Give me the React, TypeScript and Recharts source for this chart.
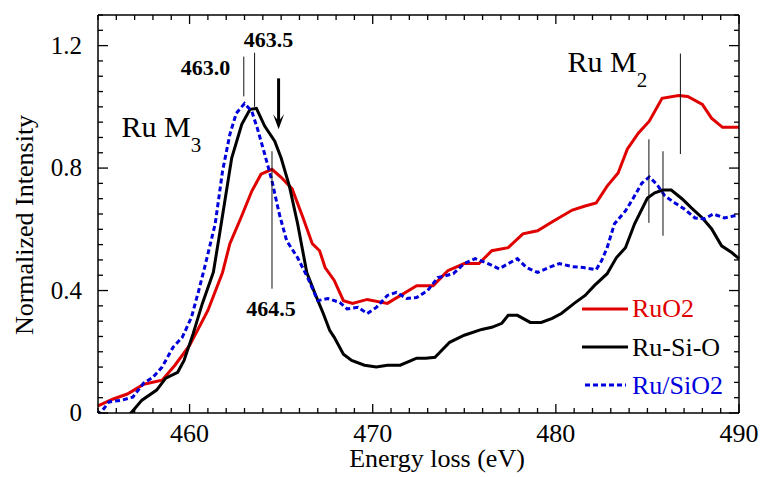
import { LineChart, Line, XAxis, YAxis, ReferenceLine, ReferenceDot } from "recharts";

// Ru M3,2 edges
const ruO2E = [
  455.0, 455.8, 456.6, 457.5, 458.5, 459.2, 460.0, 461.0, 461.8, 462.2, 462.8, 463.4, 463.9, 464.5,
  465.0, 465.6, 466.2, 466.7, 467.1, 467.4, 467.9, 468.4, 468.9, 469.7, 470.8, 472.4, 473.3, 474.1,
  475.0, 475.8, 476.5, 477.4, 478.2, 479.0, 479.9, 480.9, 481.6, 482.2, 482.8, 483.4, 483.9, 484.5,
  485.1, 485.8, 486.7, 487.2, 488.0, 488.5, 489.1, 490.0,
];
const ruO2I = [
  0.023, 0.045, 0.062, 0.094, 0.107, 0.156, 0.221, 0.335, 0.459, 0.553, 0.637, 0.725, 0.78, 0.796,
  0.77, 0.732, 0.637, 0.553, 0.53, 0.475, 0.433, 0.367, 0.358, 0.371, 0.358, 0.416, 0.416, 0.465,
  0.488, 0.488, 0.53, 0.54, 0.585, 0.595, 0.628, 0.663, 0.676, 0.686, 0.741, 0.784, 0.862, 0.914,
  0.953, 1.028, 1.037, 1.034, 1.008, 0.963, 0.933, 0.933,
];

const ruSiOE = [
  455.0, 455.5, 456.0, 456.8, 457.4, 458.2, 458.7, 459.35, 459.7, 460.2, 460.7, 461.3, 461.6, 462.3,
  462.85, 463.3, 463.65, 464.1, 464.65, 465.0, 465.45, 465.9, 466.4, 466.85, 467.3, 467.65, 467.9,
  468.4, 468.85, 469.55, 470.2, 470.8, 471.5, 472.4, 472.9, 473.4, 474.2, 475.0, 475.95, 476.5,
  477.05, 477.4, 477.9, 478.6, 479.2, 479.8, 480.3, 481.0, 481.6, 482.1, 482.8, 483.3, 483.8, 484.3,
  485.0, 485.4, 485.85, 486.3, 486.9, 487.4, 488.0, 488.5, 489.05, 489.6, 490.0,
];
const ruSiOI = [
  0.004, -0.02, -0.04, 0.0, 0.042, 0.075, 0.114, 0.133, 0.172, 0.26, 0.358, 0.46, 0.57, 0.833,
  0.943, 0.992, 0.995, 0.937, 0.888, 0.833, 0.741, 0.618, 0.459, 0.39, 0.325, 0.27, 0.247,
  0.192, 0.172, 0.156, 0.15, 0.156, 0.156, 0.179, 0.179, 0.182, 0.231, 0.254, 0.273, 0.28,
  0.293, 0.319, 0.319, 0.296, 0.296, 0.309, 0.325, 0.358, 0.384, 0.416, 0.455, 0.507, 0.54, 0.618,
  0.702, 0.719, 0.728, 0.728, 0.699, 0.67, 0.637, 0.602, 0.546, 0.524, 0.504,
];

const ruSiO2E = [
  455.0, 455.6, 456.3, 456.9, 457.5, 458.0, 458.5, 459.1, 459.6, 460.1, 460.5, 460.8, 461.4, 461.8,
  462.2, 462.55, 463.0, 463.4, 463.7, 464.1, 464.5, 464.9, 465.3, 465.9, 466.45, 467.0, 467.55,
  468.2, 468.6, 469.2, 469.7, 470.2, 470.8, 471.3, 471.85, 472.4, 473.0, 473.55, 474.4, 475.0,
  475.6, 476.3, 476.9, 477.4, 477.9, 478.4, 479.0, 479.6, 480.2, 480.9, 481.5, 482.2, 482.5, 482.8,
  483.2, 483.8, 484.2, 484.7, 485.1, 485.5, 485.95, 486.5, 487.0, 487.6, 488.1, 488.6, 489.2,
  489.75, 490.0,
];
const ruSiO2I = [
  -0.01, 0.036, 0.042, 0.052, 0.098, 0.117, 0.15, 0.215, 0.247, 0.312, 0.4, 0.47, 0.618, 0.79,
  0.91, 0.979, 1.011, 0.985, 0.93, 0.846, 0.758, 0.65, 0.563, 0.507, 0.442, 0.367, 0.374,
  0.361, 0.34, 0.345, 0.325, 0.345, 0.384, 0.394, 0.374, 0.377, 0.4, 0.442, 0.455, 0.488,
  0.504, 0.488, 0.471, 0.488, 0.504, 0.475, 0.459, 0.475, 0.488, 0.478, 0.475, 0.468, 0.498, 0.54,
  0.618, 0.66, 0.699, 0.751, 0.771, 0.748, 0.709, 0.686, 0.667, 0.637, 0.634, 0.65, 0.637,
  0.644, 0.645,
];

const xDomain = [455, 490];
const yDomain = [0, 1.3];
const xMajor = [460, 470, 480, 490];
const yMajor = [0, 0.4, 0.8, 1.2];
const yMajorLabels = ["0", "0.4", "0.8", "1.2"];
const xMinor = Array.from({ length: 36 }, (_, k) => 455 + k);
const yMinor = Array.from({ length: 27 }, (_, k) => (k * 5) / 100);

const toPoints = (e: number[], v: number[]) => e.map((x, k) => ({ e: x, i: v[k] }));
const ruO2 = toPoints(ruO2E, ruO2I);
const ruSiO = toPoints(ruSiOE, ruSiOI);
const ruSiO2 = toPoints(ruSiO2E, ruSiO2I);

const serif = "'Liberation Serif', 'Times New Roman', Times, serif";
const RED = "#e00000";
const BLUE = "#0000dd";

const W = 762;
const H = 477;
const margin = { top: 14, right: 22, bottom: 63, left: 97 };
// axes are 1px thick, so the plot is 2px smaller than the margins leave
const plotW = W - margin.left - margin.right - 2;
const plotH = H - margin.top - margin.bottom - 2;
const pxPerEv = plotW / (xDomain[1] - xDomain[0]);
const pxPerUnit = plotH / (yDomain[1] - yDomain[0]);

const isMajorX = (v: number) => xMajor.includes(v);
const majorYIndex = (v: number) => yMajor.findIndex((m) => Math.abs(m - v) < 1e-6);

const BottomLabel = (p: any) => {
  const v = p.payload.value;
  if (!isMajorX(v)) return <g />;
  return (
    <text x={p.x} y={Number(p.y) + 29} textAnchor="middle" fontSize={26} fontFamily={serif} fill="#000">
      {v}
    </text>
  );
};

const LeftLabel = (p: any) => {
  const k = majorYIndex(p.payload.value);
  if (k < 0) return <g />;
  return (
    <text x={Number(p.x) - 16} y={Number(p.y) + 8} textAnchor="end" fontSize={25} fontFamily={serif} fill="#000">
      {yMajorLabels[k]}
    </text>
  );
};

const label = (text: string, size: number, bold: boolean, anchor: string) => (p: any) => (
  <text
    x={p.cx}
    y={p.cy}
    textAnchor={anchor}
    fontSize={size}
    fontWeight={bold ? "bold" : "normal"}
    fontFamily={serif}
    fill="#000"
  >
    {text}
  </text>
);

const edgeLabel = (sub: string) => (p: any) => (
  <text x={p.cx} y={p.cy} fontSize={30} fontFamily={serif} fill="#000">
    Ru M
    <tspan dy={15} fontSize={21}>
      {sub}
    </tspan>
  </text>
);

const Arrow = (p: any) => (
  <g>
    <line x1={p.x1} x2={p.x2} y1={p.y1} y2={p.y2 - 6} stroke="#000" strokeWidth={3} />
    <path
      d={`M${p.x2 - 5.5},${p.y2 - 15} L${p.x2},${p.y2} L${p.x2 + 5.5},${p.y2 - 15} L${p.x2},${p.y2 - 8} Z`}
      fill="#000"
    />
  </g>
);

const ax = { xAxisId: "b", yAxisId: "l", ifOverflow: "visible" as const };

const seg = (key: string, x1: number, y1: number, x2: number, y2: number, width: number, color = "#000") => (
  <ReferenceLine
    key={key}
    {...ax}
    segment={[
      { x: x1, y: y1 },
      { x: x2, y: y2 },
    ]}
    stroke={color}
    strokeWidth={width}
  />
);

// inward frame ticks on all four sides, minor every 1 eV / 0.05
const frameTicks = [
  ...xMinor.flatMap((v) => {
    const len = (isMajorX(v) ? 9 : 5) / pxPerUnit;
    return [
      seg(`xb${v}`, v, yDomain[0], v, yDomain[0] + len, 1.3),
      seg(`xt${v}`, v, yDomain[1], v, yDomain[1] - len, 1.3),
    ];
  }),
  ...yMinor.flatMap((v) => {
    const len = (majorYIndex(v) >= 0 ? 10 : 5) / pxPerEv;
    return [
      seg(`yl${v}`, xDomain[0], v, xDomain[0] + len, v, 1.3),
      seg(`yr${v}`, xDomain[1], v, xDomain[1] - len, v, 1.3),
    ];
  }),
];

const frame = { stroke: "#000", strokeWidth: 1.5 };

export default function App() {
  return (
    <div style={{ position: "absolute", left: 0, top: 0, width: W, height: H, background: "#fff" }}>
      <LineChart width={W} height={H} margin={margin}>
        <XAxis
          xAxisId="b"
          type="number"
          dataKey="e"
          domain={xDomain}
          ticks={xMinor}
          interval={0}
          height={1}
          tickSize={0}
          tickMargin={0}
          tickLine={false}
          axisLine={frame}
          tick={BottomLabel}
        />
        <XAxis
          xAxisId="t"
          orientation="top"
          type="number"
          dataKey="e"
          domain={xDomain}
          height={1}
          tick={false}
          tickLine={false}
          axisLine={frame}
        />
        <YAxis
          yAxisId="l"
          type="number"
          domain={yDomain}
          allowDataOverflow
          ticks={yMinor}
          interval={0}
          width={1}
          tickSize={0}
          tickMargin={0}
          tickLine={false}
          axisLine={frame}
          tick={LeftLabel}
        />
        <YAxis
          yAxisId="r"
          orientation="right"
          type="number"
          domain={yDomain}
          width={1}
          tick={false}
          tickLine={false}
          axisLine={frame}
        />

        <Line
          xAxisId="b"
          yAxisId="l"
          data={ruO2}
          dataKey="i"
          type="linear"
          stroke={RED}
          strokeWidth={3}
          dot={false}
          isAnimationActive={false}
        />
        <Line
          xAxisId="b"
          yAxisId="l"
          data={ruSiO}
          dataKey="i"
          type="linear"
          stroke="#000"
          strokeWidth={3}
          dot={false}
          isAnimationActive={false}
        />
        <Line
          xAxisId="b"
          yAxisId="l"
          data={ruSiO2}
          dataKey="i"
          type="linear"
          stroke={BLUE}
          strokeWidth={3}
          strokeDasharray="5 3"
          dot={false}
          isAnimationActive={false}
        />

        {frameTicks}

        {seg("m1", 462.96, 1.034, 462.96, 1.164, 1, "#111")}
        {seg("m2", 463.55, 1.0, 463.55, 1.177, 1, "#111")}
        {seg("m3", 464.5, 0.406, 464.5, 0.855, 1, "#111")}
        {seg("m4", 485.08, 0.621, 485.08, 0.894, 1, "#111")}
        {seg("m5", 485.85, 0.579, 485.85, 0.855, 1, "#111")}
        {seg("m6", 486.8, 0.846, 486.8, 1.174, 1, "#111")}
        <ReferenceLine
          {...ax}
          segment={[
            { x: 464.86, y: 1.093 },
            { x: 464.86, y: 0.927 },
          ]}
          shape={Arrow}
        />

        <ReferenceDot {...ax} x={460.87} y={1.105} r={0} shape={label("463.0", 22, true, "middle")} />
        <ReferenceDot {...ax} x={464.31} y={1.196} r={0} shape={label("463.5", 22, true, "middle")} />
        <ReferenceDot {...ax} x={464.45} y={0.317} r={0} shape={label("464.5", 22, true, "middle")} />
        <ReferenceDot {...ax} x={456.28} y={0.902} r={0} shape={edgeLabel("3")} />
        <ReferenceDot {...ax} x={480.64} y={1.114} r={0} shape={edgeLabel("2")} />
      </LineChart>

      <svg
        width={W}
        height={H}
        style={{ position: "absolute", left: 0, top: 0, pointerEvents: "none" }}
        fontFamily={serif}
      >
        <text x={437} y={467} textAnchor="middle" fontSize={26} fill="#000">
          Energy loss (eV)
        </text>
        <text x={33} y={225} textAnchor="middle" fontSize={26} fill="#000" transform="rotate(-90 33 225)">
          Normalized Intensity
        </text>

        <line x1={582} x2={628} y1={309} y2={309} stroke={RED} strokeWidth={3} />
        <text x={632} y={317} fontSize={26} fill={RED}>
          RuO2
        </text>
        <line x1={582} x2={628} y1={347} y2={347} stroke="#000" strokeWidth={3} />
        <text x={632} y={356} fontSize={26} fill="#000">
          Ru-Si-O
        </text>
        <line x1={585} x2={626} y1={385} y2={385} stroke={BLUE} strokeWidth={3} strokeDasharray="5 3" />
        <text x={632} y={394} fontSize={26} fill={BLUE}>
          Ru/SiO2
        </text>
      </svg>
    </div>
  );
}
